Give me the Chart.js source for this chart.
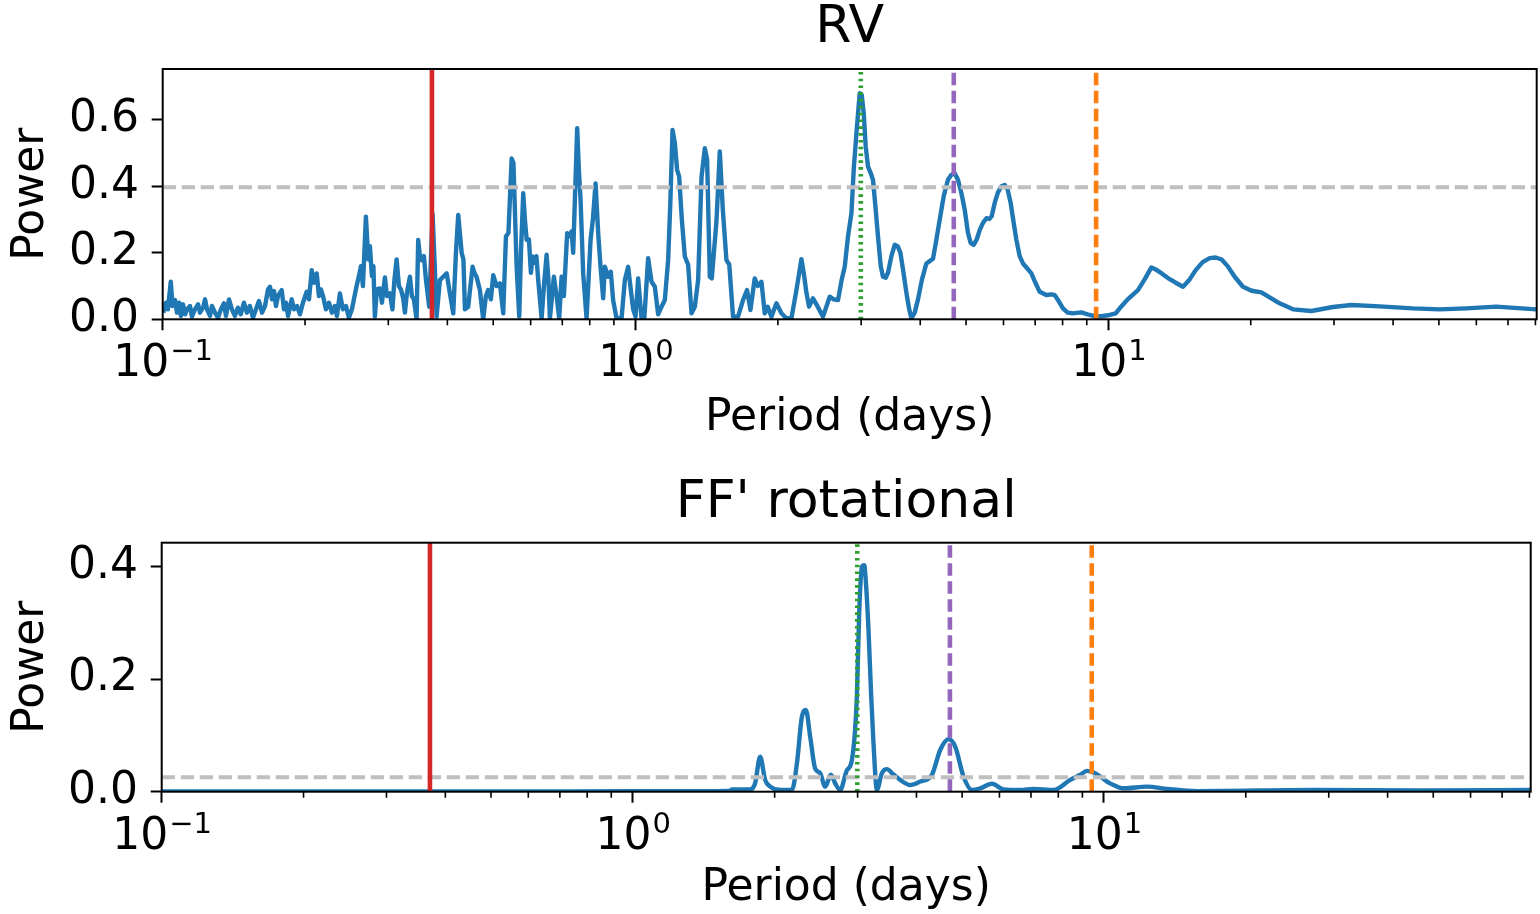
<!DOCTYPE html>
<html>
<head>
<meta charset="utf-8">
<script src="https://cdn.jsdelivr.net/npm/chart.js@4.4.1/dist/chart.umd.min.js"></script>
<style>
  html, body { margin: 0; padding: 0; background: #ffffff; }
  #wrap { position: relative; width: 1540px; height: 914px; overflow: hidden; }
  canvas { position: absolute; left: 0; }
  #rvChart { top: 0; }
  #ffChart { top: 457px; }
</style>
</head>
<body>
<div id="wrap">
  <canvas id="rvChart" width="1540" height="457"></canvas>
  <canvas id="ffChart" width="1540" height="457"></canvas>
</div>
<script>
// ---- RV periodogram ----
const rvPeriod = [
  0.1003, 0.1016, 0.1026, 0.1040, 0.1049, 0.1062, 0.1072, 0.1083, 0.1093, 0.1104,
  0.1115, 0.1126, 0.1142, 0.1153, 0.1170, 0.1188, 0.1199, 0.1217, 0.1229, 0.1241,
  0.1259, 0.1271, 0.1290, 0.1309, 0.1328, 0.1348, 0.1361, 0.1381, 0.1401, 0.1421,
  0.1442, 0.1463, 0.1485, 0.1507, 0.1529, 0.1552, 0.1575, 0.1598, 0.1622, 0.1646,
  0.1670, 0.1686, 0.1703, 0.1720, 0.1736, 0.1753, 0.1785, 0.1805, 0.1823, 0.1841,
  0.1874, 0.1895, 0.1923, 0.1951, 0.1980, 0.2016, 0.2039, 0.2066, 0.2089, 0.2117,
  0.2140, 0.2161, 0.2185, 0.2214, 0.2247, 0.2280, 0.2313, 0.2336, 0.2370, 0.2405,
  0.2441, 0.2476, 0.2513, 0.2537, 0.2571, 0.2600, 0.2626, 0.2651, 0.2690, 0.2721,
  0.2743, 0.2770, 0.2790, 0.2810, 0.2838, 0.2880, 0.2908, 0.2951, 0.2980, 0.3024,
  0.3061, 0.3091, 0.3124, 0.3159, 0.3190, 0.3226, 0.3253, 0.3285, 0.3333, 0.3365,
  0.3398, 0.3443, 0.3470, 0.3499, 0.3528, 0.3568, 0.3603, 0.3661, 0.3722, 0.3764,
  0.3795, 0.3857, 0.3920, 0.3986, 0.4050, 0.4116, 0.4170, 0.4217, 0.4288, 0.4325,
  0.4357, 0.4427, 0.4475, 0.4523, 0.4562, 0.4611, 0.4686, 0.4762, 0.4825, 0.4879,
  0.4944, 0.5001, 0.5084, 0.5166, 0.5250, 0.5320, 0.5385, 0.5470, 0.5518, 0.5604,
  0.5676, 0.5723, 0.5787, 0.5835, 0.5884, 0.5950, 0.6008, 0.6058, 0.6126, 0.6171,
  0.6225, 0.6329, 0.6400, 0.6485, 0.6542, 0.6590, 0.6719, 0.6808, 0.6895, 0.6976,
  0.7054, 0.7168, 0.7245, 0.7323, 0.7381, 0.7526, 0.7588, 0.7651, 0.7749, 0.7878,
  0.8033, 0.8124, 0.8231, 0.8336, 0.8433, 0.8541, 0.8612, 0.8751, 0.8865, 0.8965,
  0.9115, 0.9342, 0.9492, 0.9646, 0.9750, 0.9884, 1.000, 1.0127, 1.0296, 1.0437,
  1.0632, 1.0810, 1.0985, 1.1163, 1.1349, 1.1533, 1.1720, 1.1846, 1.1974, 1.2109,
  1.2245, 1.2365, 1.2528, 1.2713, 1.2919, 1.3135, 1.3347, 1.3563, 1.3790, 1.4013,
  1.4170, 1.4357, 1.4497, 1.4833, 1.5073, 1.5295, 1.5568, 1.5782, 1.6077, 1.6473,
  1.6878, 1.7210, 1.7497, 1.7868, 1.8131, 1.8460, 1.8759, 1.9035, 1.9381, 1.9858,
  2.0347, 2.0848, 2.1362, 2.1888, 2.2190, 2.2428, 2.2681, 2.2981, 2.3274, 2.3731,
  2.4280, 2.4915, 2.5743, 2.6250, 2.6805, 2.7293, 2.7694, 2.8142, 2.8612, 2.8934,
  2.9317, 2.9791, 3.0082, 3.0377, 3.0674, 3.1019, 3.1429, 3.1783, 3.2156, 3.2565,
  3.2997, 3.3369, 3.3810, 3.4190, 3.4761, 3.5324, 3.5844, 3.6318, 3.6781, 3.7395,
  3.7908, 3.8316, 3.8937, 3.9567, 4.0345, 4.1218, 4.1885, 4.2563, 4.3274, 4.3974,
  4.4839, 4.5788, 4.6552, 4.7306, 4.8073, 4.8876, 4.9668, 5.0473, 5.1141, 5.1894,
  5.2658, 5.3433, 5.4299, 5.5205, 5.5962, 5.6647, 5.7481, 5.8411, 5.9387, 6.0348,
  6.1234, 6.2136, 6.3052, 6.3885, 6.4920, 6.5972, 6.7171, 6.8723, 6.9837, 7.1557,
  7.3931, 7.5862, 7.6977, 7.8492, 8.0152, 8.2005, 8.4026, 8.7665, 9.1277, 9.4327,
  9.7265, 10.064, 10.362, 10.566, 10.985, 11.548, 11.931, 12.327, 12.589, 12.962,
  13.366, 13.877, 14.379, 14.856, 15.296, 15.826, 16.374, 16.860, 17.360, 17.874,
  18.494, 19.256, 20.089, 21.06, 21.93, 23.02, 24.57, 26.87, 29.85, 32.65,
  37.46, 44.05, 50.17, 57.13, 66.12, 80.35
];
const rvPower = [
  0.020, 0.050, 0.030, 0.113, 0.040, 0.058, 0.020, 0.050, 0.010, 0.045,
  0.015, 0.030, 0.040, 0.008, 0.030, 0.045, 0.020, 0.035, 0.060, 0.030,
  0.010, 0.040, 0.020, 0.005, 0.030, 0.048, 0.010, 0.060, 0.030, 0.010,
  0.035, 0.015, 0.050, 0.020, 0.040, 0.005, 0.030, 0.055, 0.020, 0.040,
  0.090, 0.098, 0.060, 0.085, 0.040, 0.070, 0.088, 0.030, 0.050, 0.010,
  0.060, 0.030, 0.040, 0.015, 0.050, 0.083, 0.060, 0.148, 0.110, 0.138,
  0.070, 0.090, 0.068, 0.030, 0.050, 0.020, 0.040, 0.010, 0.078, 0.030,
  0.040, 0.005, 0.030, 0.060, 0.100, 0.130, 0.160, 0.100, 0.309, 0.180,
  0.220, 0.130, 0.160, 0.008, 0.090, 0.093, 0.050, 0.126, 0.070, 0.078,
  0.030, 0.120, 0.180, 0.100, 0.090, 0.063, 0.020, 0.080, 0.128, 0.070,
  0.060, 0.000, 0.239, 0.190, 0.178, 0.190, 0.120, 0.038, 0.317, 0.150,
  0.008, 0.118, 0.128, 0.138, 0.078, 0.018, 0.200, 0.314, 0.200, 0.180,
  0.030, 0.038, 0.100, 0.158, 0.140, 0.128, 0.088, 0.000, 0.070, 0.088,
  0.060, 0.133, 0.100, 0.108, 0.018, 0.249, 0.260, 0.484, 0.470, 0.158,
  0.008, 0.200, 0.379, 0.300, 0.239, 0.240, 0.140, 0.189, 0.170, 0.190,
  0.118, 0.003, 0.100, 0.194, 0.120, 0.003, 0.128, 0.070, 0.003, 0.128,
  0.070, 0.259, 0.250, 0.264, 0.200, 0.575, 0.450, 0.360, 0.138, 0.003,
  0.239, 0.300, 0.409, 0.260, 0.158, 0.063, 0.158, 0.128, 0.143, 0.058,
  0.003, 0.003, 0.118, 0.158, 0.100, 0.030, 0.008, 0.123, 0.003, 0.003,
  0.184, 0.113, 0.098, 0.015, 0.038, 0.058, 0.178, 0.350, 0.570, 0.530,
  0.449, 0.430, 0.300, 0.189, 0.164, 0.018, 0.038, 0.118, 0.429, 0.515,
  0.480, 0.128, 0.123, 0.298, 0.505, 0.330, 0.178, 0.165, 0.008, 0.008,
  0.058, 0.088, 0.028, 0.123, 0.100, 0.113, 0.018, 0.038, 0.008, 0.048,
  0.018, 0.003, 0.003, 0.088, 0.140, 0.181, 0.140, 0.080, 0.038, 0.063,
  0.038, 0.008, 0.068, 0.060, 0.058, 0.120, 0.158, 0.250, 0.319, 0.450,
  0.560, 0.680, 0.675, 0.620, 0.520, 0.459, 0.440, 0.419, 0.340, 0.249,
  0.160, 0.128, 0.125, 0.140, 0.190, 0.224, 0.220, 0.200, 0.150, 0.080,
  0.030, 0.003, 0.020, 0.060, 0.120, 0.168, 0.175, 0.182, 0.240, 0.299,
  0.370, 0.420, 0.435, 0.439, 0.420, 0.380, 0.330, 0.260, 0.230, 0.224,
  0.240, 0.268, 0.290, 0.304, 0.302, 0.310, 0.350, 0.382, 0.400, 0.404,
  0.390, 0.350, 0.290, 0.239, 0.190, 0.168, 0.155, 0.138, 0.115, 0.083,
  0.073, 0.075, 0.073, 0.055, 0.033, 0.020, 0.018, 0.021, 0.013, 0.008,
  0.010, 0.013, 0.018, 0.033, 0.060, 0.088, 0.120, 0.156, 0.150, 0.138,
  0.124, 0.110, 0.098, 0.120, 0.148, 0.172, 0.184, 0.186, 0.180, 0.160,
  0.128, 0.098, 0.086, 0.081, 0.066, 0.048, 0.030, 0.025, 0.037, 0.043,
  0.039, 0.033, 0.030, 0.033, 0.038, 0.030
];

// ---- FF' rotational periodogram ----
const ffPeriod = [
  0.1, 0.5, 1.0, 1.4, 1.609, 1.622, 1.774, 1.818, 1.863, 1.909,
  1.957, 2.055, 2.176, 2.230, 2.285, 2.330, 2.379, 2.438, 2.498, 2.560,
  2.633, 2.688, 2.755, 2.847, 2.917, 2.989, 3.023, 3.064, 3.098, 3.128,
  3.164, 3.206, 3.242, 3.297, 3.378, 3.462, 3.570, 3.694, 3.879, 4.074,
  4.313, 4.492, 4.678, 4.834, 5.034, 5.245, 5.462, 5.784, 6.121, 6.642,
  7.088, 7.816, 8.481, 8.906, 9.202, 9.504, 9.821, 10.148, 10.48, 11.01,
  12.34, 13.61, 15.76, 27.86, 46.94, 80.65
];
const ffPower = [
  0.0005, 0.0005, 0.0008, 0.001, 0.002, 0.004, 0.004, 0.015, 0.062, 0.021,
  0.009, 0.003, 0.003, 0.050, 0.133, 0.145, 0.098, 0.041, 0.033, 0.009,
  0.030, 0.015, 0.003, 0.038, 0.056, 0.169, 0.316, 0.399, 0.402, 0.364,
  0.287, 0.169, 0.086, 0.003, 0.033, 0.040, 0.031, 0.021, 0.012, 0.018,
  0.030, 0.074, 0.093, 0.080, 0.027, 0.003, 0.006, 0.014, 0.004, 0.003,
  0.005, 0.003, 0.021, 0.030, 0.037, 0.034, 0.027, 0.018, 0.012, 0.006,
  0.009, 0.005, 0.001, 0.003, 0.002, 0.003
];

// Marked periods (days): red, green, purple, orange
const markerPeriods = [0.371, 2.995, 4.71, 9.42];
const markerColors = ['#d62728', '#2ca02c', '#9467bd', '#ff7f0e'];
const markerDashes = [[], [2.6, 4.2], [12.5, 5.5], [12.5, 5.5]];

// Significance levels
const rvThreshold = 0.397;
const ffThreshold = 0.0256;

// Axis ranges and ticks
const periodRange = [0.1, 80.5];
const xMajorTicks = [0.1, 1, 10];
const xTickBase = ['10', '10', '10'];
const xTickExponent = ['\u22121', '0', '1'];
const xMinorTicks = [0.2, 0.3, 0.4, 0.5, 0.6, 0.7, 0.8, 0.9,
                     2, 3, 4, 5, 6, 7, 8, 9,
                     20, 30, 40, 50, 60, 70, 80];
const rvPowerTicks = [0, 0.2, 0.4, 0.6];
const ffPowerTicks = [0, 0.2, 0.4];

const FONT = 'DejaVu Sans';
Chart.defaults.font.family = FONT;
Chart.defaults.color = '#000';

// frame around the plot area, short minor ticks and the 10^n labels of the period axis
const framePlugin = {
  id: 'frame',
  afterDraw(chart) {
    const { ctx, chartArea: { left, right, top, bottom }, scales: { x } } = chart;
    ctx.save();
    ctx.strokeStyle = '#000';
    ctx.lineWidth = 1.6;
    ctx.beginPath();
    xMinorTicks.forEach(v => {
      const px = x.getPixelForValue(v);
      ctx.moveTo(px, bottom);
      ctx.lineTo(px, bottom + 6);
    });
    ctx.stroke();
    ctx.lineWidth = 2;
    ctx.strokeRect(left, top, right - left, bottom - top);

    ctx.fillStyle = '#000';
    ctx.textBaseline = 'alphabetic';
    ctx.textAlign = 'left';
    const baseY = bottom + 57;
    xMajorTicks.forEach((v, i) => {
      const px = x.getPixelForValue(v);
      ctx.font = `44px "${FONT}"`;
      const wb = ctx.measureText(xTickBase[i]).width;
      ctx.font = `29px "${FONT}"`;
      const we = ctx.measureText(xTickExponent[i]).width;
      const x0 = px - (wb + we) / 2;
      ctx.font = `44px "${FONT}"`;
      ctx.fillText(xTickBase[i], x0, baseY);
      ctx.font = `29px "${FONT}"`;
      ctx.fillText(xTickExponent[i], x0 + wb + 1, baseY - 16);
    });
    ctx.restore();
  }
};

function makePanel(id, cfg) {
  const tickFont = { family: FONT, size: 44, lineHeight: 1 };
  const datasets = markerPeriods.map((p, i) => ({
    data: [{ x: p, y: 0 }, { x: p, y: cfg.yMax }],
    borderColor: markerColors[i],
    borderWidth: 4.6,
    borderDash: markerDashes[i],
    pointRadius: 0,
    order: 1
  }));
  datasets.push({
    data: [{ x: periodRange[0], y: cfg.threshold }, { x: periodRange[1], y: cfg.threshold }],
    borderColor: '#bfbfbf',
    borderWidth: 4,
    borderDash: [13.3, 5.7],
    pointRadius: 0,
    order: 2
  });
  datasets.push({
    data: cfg.period.map((p, i) => ({ x: p, y: cfg.power[i] })),
    borderColor: '#1f77b4',
    borderWidth: 4.4,
    borderJoinStyle: 'round',
    cubicInterpolationMode: cfg.smooth ? 'monotone' : 'default',
    tension: 0,
    pointRadius: 0,
    order: 3
  });

  return new Chart(document.getElementById(id), {
    type: 'line',
    data: { datasets },
    plugins: [framePlugin],
    options: {
      responsive: false,
      animation: false,
      devicePixelRatio: 1,
      events: [],
      layout: { padding: { left: 0, right: cfg.padRight, top: 0, bottom: 0 } },
      plugins: {
        legend: { display: false },
        tooltip: { enabled: false },
        title: {
          display: true,
          fullSize: false,
          text: cfg.title,
          color: '#000',
          font: { family: FONT, size: 52, weight: 'normal', lineHeight: 1 },
          padding: { top: cfg.titleTop, bottom: cfg.titleBottom }
        }
      },
      scales: {
        x: {
          type: 'logarithmic',
          min: periodRange[0],
          max: periodRange[1],
          afterBuildTicks: s => { s.ticks = xMajorTicks.map(v => ({ value: v, major: true })); },
          afterFit: s => { s.height = cfg.xHeight; },
          grid: { drawOnChartArea: false, drawTicks: true, tickLength: 11, tickColor: '#000', tickWidth: 2 },
          border: { display: false },
          ticks: {
            autoSkip: false, maxRotation: 0, minRotation: 0,
            font: tickFont, color: '#000', padding: 9,
            callback: () => ''
          },
          title: {
            display: true, text: 'Period (days)', color: '#000',
            font: tickFont, padding: { top: 0, bottom: cfg.xTitleBottom }
          }
        },
        y: {
          min: 0,
          max: cfg.yMax,
          afterBuildTicks: s => { s.ticks = cfg.yTicks.map(v => ({ value: v })); },
          afterFit: s => { s.width = cfg.yWidth; },
          grid: { drawOnChartArea: false, drawTicks: true, tickLength: 11, tickColor: '#000', tickWidth: 2 },
          border: { display: false },
          ticks: { font: tickFont, color: '#000', padding: 12.7, callback: v => v.toFixed(1) },
          title: {
            display: true, text: 'Power', color: '#000',
            font: tickFont, padding: { top: 9.3, bottom: 0 }
          }
        }
      }
    }
  });
}

makePanel('rvChart', {
  title: 'RV', period: rvPeriod, power: rvPower, threshold: rvThreshold,
  yMax: 0.753, yTicks: rvPowerTicks, smooth: false,
  padRight: 3.3, yWidth: 162.7, xHeight: 137.7,
  titleTop: 2.8, titleBottom: 14.2, xTitleBottom: 16.9
});

makePanel('ffChart', {
  title: "FF' rotational", period: ffPeriod, power: ffPower, threshold: ffThreshold,
  yMax: 0.442, yTicks: ffPowerTicks, smooth: true,
  padRight: 9.3, yWidth: 161.7, xHeight: 122.3,
  titleTop: 20.3, titleBottom: 13.4, xTitleBottom: 3.9
});
</script>
</body>
</html>
